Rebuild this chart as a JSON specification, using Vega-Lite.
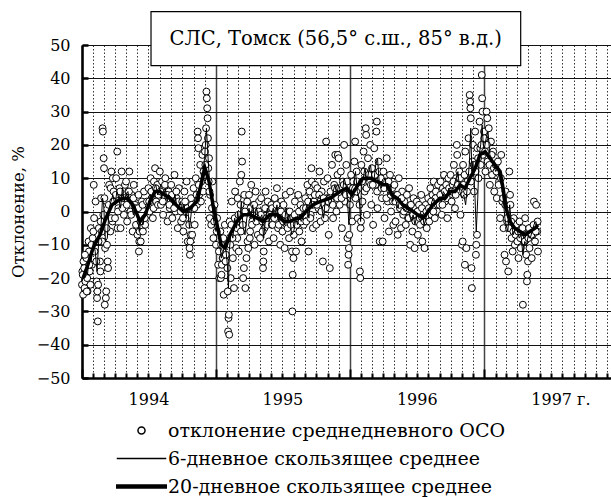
{
  "$schema": "https://vega.github.io/schema/vega-lite/v6.json",
  "autosize": {"type": "none"},
  "padding": {"left": 82, "top": 45, "right": 0, "bottom": 119},
  "width": 529,
  "height": 333,
  "background": "white",
  "config": {
    "view": {"stroke": null},
    "font": "DejaVu Serif",
    "axis": {"labelColor": "black", "titleColor": "black", "labelFont": "DejaVu Serif", "titleFont": "DejaVu Serif"},
    "legend": {"labelFont": "DejaVu Serif"},
    "text": {"font": "DejaVu Serif"}
  },
  "datasets": {
    "obs": [
      {"t":"1994-01-01","v":-22},{"t":"1994-01-02","v":-18},{"t":"1994-01-04","v":-25},{"t":"1994-01-05","v":-15},{"t":"1994-01-07","v":-17},{"t":"1994-01-08","v":-23},{"t":"1994-01-10","v":-21},{"t":"1994-01-13","v":-14},{"t":"1994-01-15","v":-20},{"t":"1994-01-16","v":-24},{"t":"1994-01-19","v":-9},{"t":"1994-01-20","v":-12},{"t":"1994-01-22","v":-18},{"t":"1994-01-24","v":-22},{"t":"1994-01-25","v":-5},{"t":"1994-01-28","v":-16},{"t":"1994-01-30","v":-8},
      {"t":"1994-01-03","v":-19},{"t":"1994-01-09","v":-13},{"t":"1994-01-14","v":-24},{"t":"1994-01-21","v":-16},{"t":"1994-01-27","v":-10},
      {"t":"1994-02-01","v":-6},{"t":"1994-02-02","v":8},{"t":"1994-02-04","v":-12},{"t":"1994-02-07","v":3},{"t":"1994-02-10","v":-21},{"t":"1994-02-11","v":-26},{"t":"1994-02-12","v":-24},{"t":"1994-02-13","v":-33},{"t":"1994-02-14","v":-22},{"t":"1994-02-16","v":-5},{"t":"1994-02-19","v":-15},{"t":"1994-02-20","v":-18},{"t":"1994-02-22","v":4},{"t":"1994-02-25","v":-9},{"t":"1994-02-26","v":25},{"t":"1994-02-27","v":24},{"t":"1994-02-28","v":-1},
      {"t":"1994-02-03","v":-2},{"t":"1994-02-09","v":-15},{"t":"1994-02-15","v":-9},{"t":"1994-02-21","v":-3},{"t":"1994-02-24","v":-6},
      {"t":"1994-03-01","v":16},{"t":"1994-03-02","v":13},{"t":"1994-03-04","v":-28},{"t":"1994-03-05","v":-11},{"t":"1994-03-07","v":-26},{"t":"1994-03-08","v":-24},{"t":"1994-03-10","v":-10},{"t":"1994-03-12","v":-15},{"t":"1994-03-13","v":-17},{"t":"1994-03-16","v":8},{"t":"1994-03-19","v":-6},{"t":"1994-03-20","v":7},{"t":"1994-03-22","v":12},{"t":"1994-03-25","v":-3},{"t":"1994-03-26","v":10},{"t":"1994-03-28","v":6},
      {"t":"1994-03-03","v":4},{"t":"1994-03-09","v":-5},{"t":"1994-03-15","v":2},{"t":"1994-03-21","v":-2},{"t":"1994-03-27","v":3},
      {"t":"1994-04-01","v":-2},{"t":"1994-04-04","v":10},{"t":"1994-04-07","v":18},{"t":"1994-04-08","v":-5},{"t":"1994-04-10","v":1},{"t":"1994-04-13","v":7},{"t":"1994-04-16","v":-5},{"t":"1994-04-19","v":12},{"t":"1994-04-22","v":4},{"t":"1994-04-25","v":-1},{"t":"1994-04-28","v":8},
      {"t":"1994-04-03","v":5},{"t":"1994-04-09","v":0},{"t":"1994-04-15","v":6},{"t":"1994-04-21","v":1},{"t":"1994-04-27","v":4},
      {"t":"1994-05-01","v":9},{"t":"1994-05-04","v":-3},{"t":"1994-05-07","v":6},{"t":"1994-05-10","v":12},{"t":"1994-05-13","v":0},{"t":"1994-05-16","v":5},{"t":"1994-05-19","v":-6},{"t":"1994-05-22","v":8},{"t":"1994-05-25","v":2},{"t":"1994-05-28","v":-4},
      {"t":"1994-05-03","v":2},{"t":"1994-05-09","v":6},{"t":"1994-05-15","v":-1},{"t":"1994-05-21","v":4},{"t":"1994-05-27","v":1},
      {"t":"1994-06-01","v":-7},{"t":"1994-06-04","v":5},{"t":"1994-06-05","v":-12},{"t":"1994-06-06","v":-9},{"t":"1994-06-07","v":-6},{"t":"1994-06-10","v":-9},{"t":"1994-06-13","v":3},{"t":"1994-06-16","v":-6},{"t":"1994-06-19","v":6},{"t":"1994-06-22","v":-4},{"t":"1994-06-25","v":2},{"t":"1994-06-28","v":-1},
      {"t":"1994-06-03","v":1},{"t":"1994-06-09","v":-3},{"t":"1994-06-15","v":2},{"t":"1994-06-21","v":-2},{"t":"1994-06-27","v":3},
      {"t":"1994-07-01","v":7},{"t":"1994-07-04","v":0},{"t":"1994-07-07","v":10},{"t":"1994-07-10","v":4},{"t":"1994-07-13","v":-2},{"t":"1994-07-16","v":9},{"t":"1994-07-19","v":13},{"t":"1994-07-22","v":3},{"t":"1994-07-25","v":8},{"t":"1994-07-28","v":5},
      {"t":"1994-07-03","v":3},{"t":"1994-07-09","v":6},{"t":"1994-07-15","v":1},{"t":"1994-07-21","v":7},{"t":"1994-07-27","v":2},
      {"t":"1994-08-01","v":12},{"t":"1994-08-04","v":2},{"t":"1994-08-07","v":9},{"t":"1994-08-10","v":-1},{"t":"1994-08-13","v":7},{"t":"1994-08-16","v":10},{"t":"1994-08-19","v":3},{"t":"1994-08-22","v":-3},{"t":"1994-08-25","v":6},{"t":"1994-08-28","v":1},
      {"t":"1994-08-03","v":6},{"t":"1994-08-09","v":3},{"t":"1994-08-15","v":8},{"t":"1994-08-21","v":5},{"t":"1994-08-27","v":2},
      {"t":"1994-09-01","v":8},{"t":"1994-09-04","v":-2},{"t":"1994-09-07","v":5},{"t":"1994-09-10","v":11},{"t":"1994-09-13","v":0},{"t":"1994-09-16","v":4},{"t":"1994-09-19","v":-5},{"t":"1994-09-22","v":7},{"t":"1994-09-25","v":2},{"t":"1994-09-28","v":-3},
      {"t":"1994-09-03","v":5},{"t":"1994-09-09","v":1},{"t":"1994-09-15","v":6},{"t":"1994-09-21","v":3},{"t":"1994-09-27","v":0},
      {"t":"1994-10-01","v":3},{"t":"1994-10-04","v":-6},{"t":"1994-10-07","v":6},{"t":"1994-10-10","v":-2},{"t":"1994-10-13","v":9},{"t":"1994-10-16","v":-9},{"t":"1994-10-19","v":1},{"t":"1994-10-21","v":-11},{"t":"1994-10-22","v":-13},{"t":"1994-10-23","v":-9},{"t":"1994-10-24","v":-7},{"t":"1994-10-25","v":4},{"t":"1994-10-28","v":-7},
      {"t":"1994-10-03","v":-2},{"t":"1994-10-09","v":3},{"t":"1994-10-15","v":1},{"t":"1994-10-20","v":-4},{"t":"1994-10-27","v":2},
      {"t":"1994-11-01","v":7},{"t":"1994-11-04","v":-4},{"t":"1994-11-07","v":10},{"t":"1994-11-10","v":2},{"t":"1994-11-12","v":24},{"t":"1994-11-13","v":22},{"t":"1994-11-14","v":19},{"t":"1994-11-16","v":5},{"t":"1994-11-19","v":14},{"t":"1994-11-22","v":9},{"t":"1994-11-25","v":17},{"t":"1994-11-28","v":12},
      {"t":"1994-11-03","v":1},{"t":"1994-11-09","v":5},{"t":"1994-11-15","v":8},{"t":"1994-11-21","v":3},{"t":"1994-11-27","v":6},
      {"t":"1994-12-01","v":11},{"t":"1994-12-02","v":18},{"t":"1994-12-04","v":20},{"t":"1994-12-05","v":25},{"t":"1994-12-06","v":36},{"t":"1994-12-07","v":34},{"t":"1994-12-08","v":31},{"t":"1994-12-09","v":28},{"t":"1994-12-10","v":22},{"t":"1994-12-11","v":13},{"t":"1994-12-13","v":16},{"t":"1994-12-15","v":-2},{"t":"1994-12-16","v":5},{"t":"1994-12-19","v":-4},{"t":"1994-12-22","v":9},{"t":"1994-12-25","v":-8},{"t":"1994-12-28","v":2},
      {"t":"1994-12-03","v":14},{"t":"1994-12-12","v":9},{"t":"1994-12-14","v":6},{"t":"1994-12-21","v":1},{"t":"1994-12-27","v":-3},
      {"t":"1995-01-01","v":-10},{"t":"1995-01-04","v":-2},{"t":"1995-01-07","v":-16},{"t":"1995-01-10","v":-20},{"t":"1995-01-13","v":-6},{"t":"1995-01-14","v":-20},{"t":"1995-01-16","v":-19},{"t":"1995-01-17","v":-16},{"t":"1995-01-19","v":-14},{"t":"1995-01-20","v":-14},{"t":"1995-01-22","v":-25},{"t":"1995-01-25","v":-4},{"t":"1995-01-28","v":-13},
      {"t":"1995-01-03","v":-6},{"t":"1995-01-09","v":-12},{"t":"1995-01-15","v":-10},{"t":"1995-01-21","v":-8},{"t":"1995-01-27","v":-15},
      {"t":"1995-02-01","v":-17},{"t":"1995-02-02","v":-24},{"t":"1995-02-03","v":-36},{"t":"1995-02-04","v":-32},{"t":"1995-02-05","v":-31},{"t":"1995-02-06","v":-37},{"t":"1995-02-07","v":-3},{"t":"1995-02-10","v":-20},{"t":"1995-02-13","v":3},{"t":"1995-02-16","v":-14},{"t":"1995-02-19","v":-23},{"t":"1995-02-22","v":6},{"t":"1995-02-25","v":-11},{"t":"1995-02-28","v":-8},
      {"t":"1995-02-09","v":-10},{"t":"1995-02-12","v":-4},{"t":"1995-02-15","v":-8},{"t":"1995-02-21","v":-2},{"t":"1995-02-27","v":-5},
      {"t":"1995-03-01","v":4},{"t":"1995-03-04","v":-12},{"t":"1995-03-07","v":9},{"t":"1995-03-10","v":-6},{"t":"1995-03-11","v":11},{"t":"1995-03-12","v":24},{"t":"1995-03-13","v":15},{"t":"1995-03-16","v":-20},{"t":"1995-03-18","v":-17},{"t":"1995-03-19","v":5},{"t":"1995-03-22","v":-23},{"t":"1995-03-25","v":-14},{"t":"1995-03-28","v":-9},{"t":"1995-03-30","v":-11},
      {"t":"1995-03-03","v":-1},{"t":"1995-03-09","v":2},{"t":"1995-03-15","v":-4},{"t":"1995-03-21","v":0},{"t":"1995-03-27","v":3},
      {"t":"1995-04-01","v":5},{"t":"1995-04-03","v":-8},{"t":"1995-04-04","v":-6},{"t":"1995-04-07","v":8},{"t":"1995-04-10","v":-3},{"t":"1995-04-13","v":2},{"t":"1995-04-16","v":-10},{"t":"1995-04-19","v":6},{"t":"1995-04-22","v":-1},{"t":"1995-04-25","v":-7},{"t":"1995-04-28","v":3},
      {"t":"1995-04-05","v":1},{"t":"1995-04-09","v":-4},{"t":"1995-04-15","v":2},{"t":"1995-04-21","v":-3},{"t":"1995-04-27","v":0},
      {"t":"1995-05-01","v":-8},{"t":"1995-05-04","v":4},{"t":"1995-05-07","v":-3},{"t":"1995-05-09","v":-17},{"t":"1995-05-10","v":-15},{"t":"1995-05-11","v":-12},{"t":"1995-05-13","v":-5},{"t":"1995-05-16","v":6},{"t":"1995-05-19","v":-2},{"t":"1995-05-22","v":3},{"t":"1995-05-25","v":-9},{"t":"1995-05-28","v":1},
      {"t":"1995-05-03","v":-1},{"t":"1995-05-08","v":-6},{"t":"1995-05-15","v":1},{"t":"1995-05-21","v":-4},{"t":"1995-05-27","v":-1},
      {"t":"1995-06-01","v":2},{"t":"1995-06-02","v":-4},{"t":"1995-06-04","v":-4},{"t":"1995-06-07","v":-8},{"t":"1995-06-10","v":4},{"t":"1995-06-13","v":-1},{"t":"1995-06-16","v":7},{"t":"1995-06-19","v":-5},{"t":"1995-06-22","v":0},{"t":"1995-06-25","v":-10},{"t":"1995-06-28","v":3},
      {"t":"1995-06-03","v":1},{"t":"1995-06-09","v":-2},{"t":"1995-06-15","v":2},{"t":"1995-06-21","v":-4},{"t":"1995-06-27","v":0},
      {"t":"1995-07-01","v":-6},{"t":"1995-07-04","v":2},{"t":"1995-07-07","v":-11},{"t":"1995-07-10","v":5},{"t":"1995-07-13","v":-4},{"t":"1995-07-16","v":0},{"t":"1995-07-19","v":-8},{"t":"1995-07-22","v":6},{"t":"1995-07-25","v":-2},{"t":"1995-07-27","v":-12},{"t":"1995-07-28","v":-30},{"t":"1995-07-29","v":-19},{"t":"1995-07-31","v":-14},
      {"t":"1995-07-03","v":-3},{"t":"1995-07-09","v":-1},{"t":"1995-07-15","v":-5},{"t":"1995-07-21","v":0},{"t":"1995-07-24","v":-4},
      {"t":"1995-08-01","v":-7},{"t":"1995-08-04","v":3},{"t":"1995-08-07","v":-12},{"t":"1995-08-10","v":-1},{"t":"1995-08-13","v":5},{"t":"1995-08-16","v":-6},{"t":"1995-08-19","v":2},{"t":"1995-08-22","v":-9},{"t":"1995-08-25","v":0},{"t":"1995-08-28","v":-4},
      {"t":"1995-08-03","v":-1},{"t":"1995-08-09","v":-4},{"t":"1995-08-15","v":0},{"t":"1995-08-21","v":-3},{"t":"1995-08-27","v":1},
      {"t":"1995-09-01","v":4},{"t":"1995-09-04","v":-3},{"t":"1995-09-07","v":8},{"t":"1995-09-10","v":-12},{"t":"1995-09-13","v":6},{"t":"1995-09-16","v":-1},{"t":"1995-09-18","v":13},{"t":"1995-09-19","v":9},{"t":"1995-09-22","v":-5},{"t":"1995-09-25","v":3},{"t":"1995-09-28","v":8},
      {"t":"1995-09-03","v":1},{"t":"1995-09-09","v":3},{"t":"1995-09-15","v":-2},{"t":"1995-09-21","v":2},{"t":"1995-09-27","v":5},
      {"t":"1995-10-01","v":-4},{"t":"1995-10-04","v":7},{"t":"1995-10-07","v":1},{"t":"1995-10-10","v":12},{"t":"1995-10-13","v":-3},{"t":"1995-10-16","v":6},{"t":"1995-10-19","v":-15},{"t":"1995-10-22","v":9},{"t":"1995-10-25","v":-2},{"t":"1995-10-28","v":21},{"t":"1995-10-30","v":4},
      {"t":"1995-10-03","v":2},{"t":"1995-10-09","v":5},{"t":"1995-10-15","v":0},{"t":"1995-10-21","v":4},{"t":"1995-10-27","v":1},
      {"t":"1995-11-01","v":10},{"t":"1995-11-04","v":-7},{"t":"1995-11-07","v":-17},{"t":"1995-11-10","v":3},{"t":"1995-11-13","v":14},{"t":"1995-11-16","v":-2},{"t":"1995-11-19","v":8},{"t":"1995-11-22","v":17},{"t":"1995-11-25","v":0},{"t":"1995-11-28","v":11},{"t":"1995-11-29","v":17},
      {"t":"1995-11-03","v":3},{"t":"1995-11-09","v":6},{"t":"1995-11-15","v":2},{"t":"1995-11-21","v":7},{"t":"1995-11-27","v":4},
      {"t":"1995-12-01","v":16},{"t":"1995-12-04","v":2},{"t":"1995-12-07","v":12},{"t":"1995-12-10","v":-5},{"t":"1995-12-13","v":9},{"t":"1995-12-16","v":20},{"t":"1995-12-19","v":3},{"t":"1995-12-22","v":14},{"t":"1995-12-25","v":-8},{"t":"1995-12-27","v":-16},{"t":"1995-12-28","v":-13},{"t":"1995-12-29","v":-11},{"t":"1995-12-30","v":-7},
      {"t":"1995-12-03","v":7},{"t":"1995-12-09","v":4},{"t":"1995-12-15","v":8},{"t":"1995-12-21","v":5},{"t":"1995-12-24","v":9},
      {"t":"1996-01-01","v":2},{"t":"1996-01-04","v":11},{"t":"1996-01-07","v":-3},{"t":"1996-01-10","v":9},{"t":"1996-01-13","v":15},{"t":"1996-01-15","v":21},{"t":"1996-01-16","v":4},{"t":"1996-01-19","v":12},{"t":"1996-01-22","v":-2},{"t":"1996-01-25","v":7},{"t":"1996-01-28","v":-18},{"t":"1996-01-29","v":-20},{"t":"1996-01-30","v":-5},{"t":"1996-01-31","v":-3},
      {"t":"1996-01-03","v":5},{"t":"1996-01-09","v":7},{"t":"1996-01-18","v":6},{"t":"1996-01-21","v":9},{"t":"1996-01-27","v":2},
      {"t":"1996-02-01","v":14},{"t":"1996-02-04","v":3},{"t":"1996-02-07","v":18},{"t":"1996-02-10","v":6},{"t":"1996-02-13","v":25},{"t":"1996-02-14","v":23},{"t":"1996-02-16","v":-1},{"t":"1996-02-19","v":16},{"t":"1996-02-22","v":9},{"t":"1996-02-25","v":20},{"t":"1996-02-28","v":2},
      {"t":"1996-02-03","v":9},{"t":"1996-02-09","v":12},{"t":"1996-02-15","v":7},{"t":"1996-02-21","v":11},{"t":"1996-02-27","v":8},
      {"t":"1996-03-01","v":13},{"t":"1996-03-04","v":-4},{"t":"1996-03-07","v":19},{"t":"1996-03-10","v":8},{"t":"1996-03-13","v":24},{"t":"1996-03-14","v":27},{"t":"1996-03-16","v":1},{"t":"1996-03-19","v":15},{"t":"1996-03-22","v":-9},{"t":"1996-03-25","v":10},{"t":"1996-03-28","v":4},{"t":"1996-03-30","v":-9},
      {"t":"1996-03-03","v":8},{"t":"1996-03-09","v":11},{"t":"1996-03-15","v":6},{"t":"1996-03-21","v":12},{"t":"1996-03-27","v":7},
      {"t":"1996-04-01","v":12},{"t":"1996-04-04","v":-2},{"t":"1996-04-07","v":9},{"t":"1996-04-10","v":16},{"t":"1996-04-13","v":3},{"t":"1996-04-16","v":-6},{"t":"1996-04-19","v":11},{"t":"1996-04-22","v":0},{"t":"1996-04-25","v":7},{"t":"1996-04-28","v":-4},
      {"t":"1996-04-03","v":7},{"t":"1996-04-09","v":4},{"t":"1996-04-15","v":9},{"t":"1996-04-21","v":5},{"t":"1996-04-27","v":3},
      {"t":"1996-05-01","v":8},{"t":"1996-05-04","v":-3},{"t":"1996-05-07","v":5},{"t":"1996-05-10","v":-7},{"t":"1996-05-13","v":10},{"t":"1996-05-16","v":1},{"t":"1996-05-19","v":-5},{"t":"1996-05-22","v":6},{"t":"1996-05-25","v":-1},{"t":"1996-05-28","v":3},
      {"t":"1996-05-03","v":3},{"t":"1996-05-09","v":5},{"t":"1996-05-15","v":2},{"t":"1996-05-21","v":4},{"t":"1996-05-27","v":0},
      {"t":"1996-06-01","v":-4},{"t":"1996-06-04","v":5},{"t":"1996-06-07","v":-2},{"t":"1996-06-10","v":7},{"t":"1996-06-13","v":-10},{"t":"1996-06-16","v":2},{"t":"1996-06-19","v":-6},{"t":"1996-06-22","v":4},{"t":"1996-06-25","v":-11},{"t":"1996-06-28","v":1},
      {"t":"1996-06-03","v":1},{"t":"1996-06-09","v":-2},{"t":"1996-06-15","v":2},{"t":"1996-06-21","v":-1},{"t":"1996-06-27","v":-3},
      {"t":"1996-07-01","v":3},{"t":"1996-07-04","v":-7},{"t":"1996-07-07","v":2},{"t":"1996-07-10","v":-4},{"t":"1996-07-13","v":5},{"t":"1996-07-16","v":-9},{"t":"1996-07-19","v":0},{"t":"1996-07-22","v":-11},{"t":"1996-07-25","v":2},{"t":"1996-07-28","v":-5},
      {"t":"1996-07-03","v":0},{"t":"1996-07-09","v":-2},{"t":"1996-07-15","v":1},{"t":"1996-07-21","v":-3},{"t":"1996-07-27","v":0},
      {"t":"1996-08-01","v":4},{"t":"1996-08-04","v":-3},{"t":"1996-08-07","v":7},{"t":"1996-08-10","v":-1},{"t":"1996-08-13","v":5},{"t":"1996-08-16","v":9},{"t":"1996-08-19","v":-2},{"t":"1996-08-22","v":6},{"t":"1996-08-25","v":0},{"t":"1996-08-28","v":8},
      {"t":"1996-08-03","v":1},{"t":"1996-08-09","v":3},{"t":"1996-08-15","v":0},{"t":"1996-08-21","v":4},{"t":"1996-08-27","v":2},
      {"t":"1996-09-01","v":2},{"t":"1996-09-04","v":9},{"t":"1996-09-07","v":-1},{"t":"1996-09-10","v":7},{"t":"1996-09-13","v":11},{"t":"1996-09-16","v":3},{"t":"1996-09-19","v":8},{"t":"1996-09-22","v":-2},{"t":"1996-09-25","v":10},{"t":"1996-09-28","v":5},
      {"t":"1996-09-03","v":5},{"t":"1996-09-09","v":2},{"t":"1996-09-15","v":6},{"t":"1996-09-21","v":4},{"t":"1996-09-27","v":7},
      {"t":"1996-10-01","v":11},{"t":"1996-10-04","v":3},{"t":"1996-10-07","v":8},{"t":"1996-10-10","v":14},{"t":"1996-10-13","v":1},{"t":"1996-10-16","v":10},{"t":"1996-10-18","v":20},{"t":"1996-10-19","v":17},{"t":"1996-10-22","v":6},{"t":"1996-10-25","v":12},{"t":"1996-10-28","v":-1},
      {"t":"1996-10-03","v":6},{"t":"1996-10-09","v":9},{"t":"1996-10-15","v":5},{"t":"1996-10-21","v":8},{"t":"1996-10-27","v":10},
      {"t":"1996-11-01","v":-10},{"t":"1996-11-03","v":-9},{"t":"1996-11-04","v":14},{"t":"1996-11-07","v":5},{"t":"1996-11-09","v":-16},{"t":"1996-11-10","v":18},{"t":"1996-11-13","v":-11},{"t":"1996-11-16","v":9},{"t":"1996-11-19","v":22},{"t":"1996-11-22","v":35},{"t":"1996-11-23","v":33},{"t":"1996-11-24","v":31},{"t":"1996-11-25","v":28},{"t":"1996-11-27","v":-17},{"t":"1996-11-28","v":-23},{"t":"1996-11-30","v":15},
      {"t":"1996-11-05","v":8},{"t":"1996-11-08","v":11},{"t":"1996-11-15","v":6},{"t":"1996-11-21","v":12},{"t":"1996-11-26","v":9},
      {"t":"1996-12-01","v":20},{"t":"1996-12-04","v":6},{"t":"1996-12-07","v":24},{"t":"1996-12-09","v":-13},{"t":"1996-12-10","v":-10},{"t":"1996-12-12","v":-7},{"t":"1996-12-13","v":19},{"t":"1996-12-16","v":10},{"t":"1996-12-19","v":27},{"t":"1996-12-22","v":14},{"t":"1996-12-25","v":41},{"t":"1996-12-26","v":34},{"t":"1996-12-27","v":30},{"t":"1996-12-28","v":17},{"t":"1996-12-31","v":24},
      {"t":"1996-12-03","v":14},{"t":"1996-12-08","v":12},{"t":"1996-12-15","v":16},{"t":"1996-12-21","v":19},{"t":"1996-12-24","v":20},
      {"t":"1997-01-01","v":22},{"t":"1997-01-04","v":12},{"t":"1997-01-07","v":30},{"t":"1997-01-09","v":28},{"t":"1997-01-10","v":15},{"t":"1997-01-13","v":25},{"t":"1997-01-16","v":8},{"t":"1997-01-19","v":21},{"t":"1997-01-22","v":11},{"t":"1997-01-25","v":18},{"t":"1997-01-28","v":6},
      {"t":"1997-01-03","v":18},{"t":"1997-01-08","v":20},{"t":"1997-01-15","v":14},{"t":"1997-01-21","v":17},{"t":"1997-01-27","v":13},
      {"t":"1997-02-01","v":14},{"t":"1997-02-04","v":4},{"t":"1997-02-07","v":15},{"t":"1997-02-10","v":9},{"t":"1997-02-13","v":-2},{"t":"1997-02-16","v":17},{"t":"1997-02-19","v":3},{"t":"1997-02-22","v":-5},{"t":"1997-02-25","v":-13},{"t":"1997-02-28","v":6},
      {"t":"1997-02-03","v":12},{"t":"1997-02-09","v":8},{"t":"1997-02-15","v":10},{"t":"1997-02-21","v":4},{"t":"1997-02-27","v":2},
      {"t":"1997-03-01","v":-15},{"t":"1997-03-04","v":-3},{"t":"1997-03-07","v":-18},{"t":"1997-03-10","v":12},{"t":"1997-03-12","v":5},{"t":"1997-03-13","v":2},{"t":"1997-03-16","v":-8},{"t":"1997-03-19","v":-12},{"t":"1997-03-22","v":-2},{"t":"1997-03-25","v":-10},{"t":"1997-03-28","v":-4},
      {"t":"1997-03-03","v":-2},{"t":"1997-03-09","v":-5},{"t":"1997-03-15","v":-3},{"t":"1997-03-21","v":-6},{"t":"1997-03-27","v":-7},
      {"t":"1997-04-01","v":-9},{"t":"1997-04-04","v":-14},{"t":"1997-04-07","v":-3},{"t":"1997-04-10","v":-11},{"t":"1997-04-13","v":-6},{"t":"1997-04-16","v":-28},{"t":"1997-04-19","v":-9},{"t":"1997-04-22","v":-2},{"t":"1997-04-25","v":-13},{"t":"1997-04-27","v":-21},{"t":"1997-04-28","v":-19},{"t":"1997-04-30","v":-15},
      {"t":"1997-04-03","v":-6},{"t":"1997-04-09","v":-8},{"t":"1997-04-15","v":-5},{"t":"1997-04-21","v":-9},{"t":"1997-04-26","v":-7},
      {"t":"1997-05-01","v":-8},{"t":"1997-05-04","v":-11},{"t":"1997-05-07","v":-5},{"t":"1997-05-10","v":-14},{"t":"1997-05-13","v":-7},{"t":"1997-05-16","v":3},{"t":"1997-05-19","v":-9},{"t":"1997-05-22","v":2},{"t":"1997-05-25","v":-6},{"t":"1997-05-27","v":-12},
      {"t":"1997-05-03","v":-5},{"t":"1997-05-09","v":-7},{"t":"1997-05-15","v":-4},{"t":"1997-05-21","v":-6},{"t":"1997-05-26","v":-3}
    ],
    "ma6": [
      {"t":"1994-01-01","v":-21},{"t":"1994-01-06","v":-19},{"t":"1994-01-11","v":-17},{"t":"1994-01-16","v":-19},{"t":"1994-01-21","v":-13},{"t":"1994-01-26","v":-15},
      {"t":"1994-02-01","v":-9},{"t":"1994-02-06","v":-12},{"t":"1994-02-11","v":-18},{"t":"1994-02-16","v":-8},{"t":"1994-02-21","v":-6},{"t":"1994-02-26","v":4},
      {"t":"1994-03-01","v":2},{"t":"1994-03-06","v":-9},{"t":"1994-03-11","v":-8},{"t":"1994-03-16","v":1},{"t":"1994-03-21","v":3},{"t":"1994-03-26","v":5},
      {"t":"1994-04-01","v":2},{"t":"1994-04-06","v":6},{"t":"1994-04-11","v":4},{"t":"1994-04-16","v":1},{"t":"1994-04-21","v":7},{"t":"1994-04-26","v":3},
      {"t":"1994-05-01","v":5},{"t":"1994-05-06","v":6},{"t":"1994-05-11","v":3},{"t":"1994-05-16","v":2},{"t":"1994-05-21","v":-1},{"t":"1994-05-26","v":1},
      {"t":"1994-06-01","v":-2},{"t":"1994-06-06","v":-6},{"t":"1994-06-11","v":-2},{"t":"1994-06-16","v":-4},{"t":"1994-06-21","v":0},{"t":"1994-06-26","v":-1},
      {"t":"1994-07-01","v":2},{"t":"1994-07-06","v":5},{"t":"1994-07-11","v":3},{"t":"1994-07-16","v":7},{"t":"1994-07-21","v":8},{"t":"1994-07-26","v":5},
      {"t":"1994-08-01","v":7},{"t":"1994-08-06","v":4},{"t":"1994-08-11","v":6},{"t":"1994-08-16","v":7},{"t":"1994-08-21","v":3},{"t":"1994-08-26","v":5},
      {"t":"1994-09-01","v":4},{"t":"1994-09-06","v":2},{"t":"1994-09-11","v":5},{"t":"1994-09-16","v":2},{"t":"1994-09-21","v":1},{"t":"1994-09-26","v":3},
      {"t":"1994-10-01","v":0},{"t":"1994-10-06","v":2},{"t":"1994-10-11","v":-2},{"t":"1994-10-16","v":1},{"t":"1994-10-21","v":-5},{"t":"1994-10-26","v":0},
      {"t":"1994-11-01","v":2},{"t":"1994-11-06","v":4},{"t":"1994-11-11","v":6},{"t":"1994-11-16","v":3},{"t":"1994-11-21","v":10},{"t":"1994-11-26","v":12},
      {"t":"1994-12-01","v":16},{"t":"1994-12-06","v":25},{"t":"1994-12-11","v":15},{"t":"1994-12-16","v":6},{"t":"1994-12-21","v":2},{"t":"1994-12-26","v":-3},
      {"t":"1995-01-01","v":-6},{"t":"1995-01-06","v":-4},{"t":"1995-01-11","v":-10},{"t":"1995-01-16","v":-14},{"t":"1995-01-21","v":-12},{"t":"1995-01-26","v":-9},
      {"t":"1995-02-01","v":-16},{"t":"1995-02-04","v":-23},{"t":"1995-02-06","v":-12},{"t":"1995-02-11","v":-6},{"t":"1995-02-16","v":-8},{"t":"1995-02-21","v":-2},{"t":"1995-02-26","v":-5},
      {"t":"1995-03-01","v":0},{"t":"1995-03-06","v":-4},{"t":"1995-03-11","v":3},{"t":"1995-03-16","v":-5},{"t":"1995-03-21","v":-7},{"t":"1995-03-26","v":-2},
      {"t":"1995-04-01","v":1},{"t":"1995-04-06","v":-2},{"t":"1995-04-11","v":2},{"t":"1995-04-16","v":-3},{"t":"1995-04-21","v":1},{"t":"1995-04-26","v":-1},
      {"t":"1995-05-01","v":-2},{"t":"1995-05-06","v":-1},{"t":"1995-05-11","v":-8},{"t":"1995-05-16","v":-2},{"t":"1995-05-21","v":1},{"t":"1995-05-26","v":-3},
      {"t":"1995-06-01","v":-1},{"t":"1995-06-06","v":1},{"t":"1995-06-11","v":-2},{"t":"1995-06-16","v":2},{"t":"1995-06-21","v":-3},{"t":"1995-06-26","v":-1},
      {"t":"1995-07-01","v":-2},{"t":"1995-07-06","v":-4},{"t":"1995-07-11","v":1},{"t":"1995-07-16","v":-3},{"t":"1995-07-21","v":-1},{"t":"1995-07-26","v":-7},
      {"t":"1995-08-01","v":-6},{"t":"1995-08-06","v":-2},{"t":"1995-08-11","v":-4},{"t":"1995-08-16","v":-1},{"t":"1995-08-21","v":-3},{"t":"1995-08-26","v":-2},
      {"t":"1995-09-01","v":0},{"t":"1995-09-06","v":2},{"t":"1995-09-11","v":-2},{"t":"1995-09-16","v":4},{"t":"1995-09-21","v":1},{"t":"1995-09-26","v":3},
      {"t":"1995-10-01","v":2},{"t":"1995-10-06","v":4},{"t":"1995-10-11","v":5},{"t":"1995-10-16","v":1},{"t":"1995-10-21","v":-2},{"t":"1995-10-26","v":4},
      {"t":"1995-11-01","v":5},{"t":"1995-11-06","v":2},{"t":"1995-11-11","v":3},{"t":"1995-11-16","v":6},{"t":"1995-11-21","v":8},{"t":"1995-11-26","v":5},
      {"t":"1995-12-01","v":8},{"t":"1995-12-06","v":6},{"t":"1995-12-11","v":5},{"t":"1995-12-16","v":10},{"t":"1995-12-21","v":8},{"t":"1995-12-26","v":2},{"t":"1995-12-29","v":-4},
      {"t":"1996-01-01","v":3},{"t":"1996-01-06","v":7},{"t":"1996-01-11","v":8},{"t":"1996-01-16","v":12},{"t":"1996-01-21","v":6},{"t":"1996-01-26","v":4},{"t":"1996-01-30","v":-3},
      {"t":"1996-02-01","v":8},{"t":"1996-02-06","v":10},{"t":"1996-02-11","v":13},{"t":"1996-02-16","v":9},{"t":"1996-02-21","v":12},{"t":"1996-02-26","v":14},
      {"t":"1996-03-01","v":10},{"t":"1996-03-06","v":9},{"t":"1996-03-11","v":14},{"t":"1996-03-16","v":16},{"t":"1996-03-21","v":8},{"t":"1996-03-26","v":7},
      {"t":"1996-04-01","v":9},{"t":"1996-04-06","v":10},{"t":"1996-04-11","v":6},{"t":"1996-04-16","v":5},{"t":"1996-04-21","v":8},{"t":"1996-04-26","v":3},
      {"t":"1996-05-01","v":4},{"t":"1996-05-06","v":3},{"t":"1996-05-11","v":1},{"t":"1996-05-16","v":4},{"t":"1996-05-21","v":2},{"t":"1996-05-26","v":1},
      {"t":"1996-06-01","v":0},{"t":"1996-06-06","v":2},{"t":"1996-06-11","v":-1},{"t":"1996-06-16","v":-3},{"t":"1996-06-21","v":-1},{"t":"1996-06-26","v":-4},
      {"t":"1996-07-01","v":-1},{"t":"1996-07-06","v":-2},{"t":"1996-07-11","v":-3},{"t":"1996-07-16","v":-1},{"t":"1996-07-21","v":-4},{"t":"1996-07-26","v":-2},
      {"t":"1996-08-01","v":1},{"t":"1996-08-06","v":0},{"t":"1996-08-11","v":3},{"t":"1996-08-16","v":4},{"t":"1996-08-21","v":2},{"t":"1996-08-26","v":3},
      {"t":"1996-09-01","v":4},{"t":"1996-09-06","v":3},{"t":"1996-09-11","v":6},{"t":"1996-09-16","v":5},{"t":"1996-09-21","v":4},{"t":"1996-09-26","v":7},
      {"t":"1996-10-01","v":5},{"t":"1996-10-06","v":7},{"t":"1996-10-11","v":8},{"t":"1996-10-16","v":10},{"t":"1996-10-21","v":12},{"t":"1996-10-26","v":6},
      {"t":"1996-11-01","v":4},{"t":"1996-11-06","v":5},{"t":"1996-11-11","v":2},{"t":"1996-11-16","v":8},{"t":"1996-11-21","v":14},{"t":"1996-11-25","v":25},{"t":"1996-11-28","v":12},
      {"t":"1996-12-01","v":15},{"t":"1996-12-06","v":6},{"t":"1996-12-10","v":-6},{"t":"1996-12-14","v":4},{"t":"1996-12-18","v":17},{"t":"1996-12-22","v":20},{"t":"1996-12-26","v":26},{"t":"1996-12-29","v":20},
      {"t":"1997-01-01","v":19},{"t":"1997-01-06","v":22},{"t":"1997-01-11","v":24},{"t":"1997-01-16","v":17},{"t":"1997-01-21","v":16},{"t":"1997-01-26","v":14},
      {"t":"1997-02-01","v":12},{"t":"1997-02-06","v":13},{"t":"1997-02-11","v":10},{"t":"1997-02-16","v":8},{"t":"1997-02-21","v":4},{"t":"1997-02-26","v":-2},
      {"t":"1997-03-01","v":-4},{"t":"1997-03-06","v":-6},{"t":"1997-03-11","v":2},{"t":"1997-03-16","v":-4},{"t":"1997-03-21","v":-7},{"t":"1997-03-26","v":-5},
      {"t":"1997-04-01","v":-6},{"t":"1997-04-06","v":-8},{"t":"1997-04-11","v":-7},{"t":"1997-04-16","v":-13},{"t":"1997-04-21","v":-9},{"t":"1997-04-26","v":-10},
      {"t":"1997-05-01","v":-7},{"t":"1997-05-06","v":-8},{"t":"1997-05-11","v":-6},{"t":"1997-05-16","v":-4},{"t":"1997-05-21","v":-3},{"t":"1997-05-26","v":-5}
    ],
    "ma20": [
      {"t":"1994-01-04","v":-20},{"t":"1994-01-17","v":-16},{"t":"1994-01-31","v":-11},{"t":"1994-02-19","v":-7},{"t":"1994-03-07","v":-2},{"t":"1994-03-24","v":2},{"t":"1994-04-06","v":3},{"t":"1994-04-20","v":4},{"t":"1994-05-04","v":4},{"t":"1994-05-20","v":2},{"t":"1994-06-08","v":-3},{"t":"1994-06-22","v":-1},{"t":"1994-07-05","v":3},{"t":"1994-07-19","v":6},{"t":"1994-08-01","v":6},{"t":"1994-08-15","v":5},{"t":"1994-08-29","v":4},{"t":"1994-09-14","v":2},{"t":"1994-10-03","v":0},{"t":"1994-10-22","v":1},{"t":"1994-11-10","v":3},{"t":"1994-11-21","v":8},{"t":"1994-12-02","v":13},{"t":"1994-12-13","v":9},{"t":"1994-12-24","v":2},
      {"t":"1995-01-04","v":-4},{"t":"1995-01-15","v":-10},{"t":"1995-01-26","v":-11},{"t":"1995-02-08","v":-7},{"t":"1995-02-27","v":-3},{"t":"1995-03-16","v":-1},{"t":"1995-04-04","v":-1},{"t":"1995-04-23","v":-2},{"t":"1995-05-09","v":-3},{"t":"1995-05-28","v":-1},{"t":"1995-06-16","v":-1},{"t":"1995-07-05","v":-3},{"t":"1995-07-22","v":-3},{"t":"1995-08-07","v":-2},{"t":"1995-08-18","v":-2},{"t":"1995-09-03","v":0},{"t":"1995-09-22","v":2},{"t":"1995-10-11","v":3},{"t":"1995-11-08","v":4},{"t":"1995-12-05","v":6},{"t":"1995-12-24","v":7},
      {"t":"1996-01-06","v":5},{"t":"1996-01-23","v":8},{"t":"1996-02-05","v":10},{"t":"1996-02-25","v":10},{"t":"1996-03-15","v":9},{"t":"1996-03-31","v":8},{"t":"1996-04-11","v":8},{"t":"1996-04-24","v":5},{"t":"1996-05-08","v":4},{"t":"1996-05-24","v":2},{"t":"1996-06-07","v":1},{"t":"1996-06-21","v":0},{"t":"1996-07-04","v":-1},{"t":"1996-07-18","v":-2},{"t":"1996-08-01","v":0},{"t":"1996-08-14","v":2},{"t":"1996-09-02","v":4},{"t":"1996-09-16","v":4},{"t":"1996-09-29","v":6},{"t":"1996-10-13","v":6},{"t":"1996-10-27","v":8},{"t":"1996-11-09","v":7},{"t":"1996-11-23","v":10},{"t":"1996-12-07","v":13},{"t":"1996-12-20","v":17},
      {"t":"1997-01-03","v":18},{"t":"1997-01-16","v":16},{"t":"1997-01-30","v":14},{"t":"1997-02-13","v":12},{"t":"1997-02-21","v":7},{"t":"1997-03-01","v":1},{"t":"1997-03-12","v":-3},{"t":"1997-03-25","v":-5},{"t":"1997-04-08","v":-6},{"t":"1997-04-22","v":-7},{"t":"1997-05-05","v":-6},{"t":"1997-05-19","v":-5},{"t":"1997-05-27","v":-4}
    ]
  },
  "layer": [
    {
      "data": {"name": "obs"},
      "mark": {"type": "point", "filled": false, "stroke": "black", "strokeWidth": 1, "size": 48, "opacity": 1},
      "encoding": {
        "x": {
          "field": "t", "type": "temporal",
          "scale": {"domain": [{"year": 1994, "month": 1, "date": 1}, {"year": 1997, "month": 12, "date": 12}], "nice": false},
          "axis": {
            "title": null,
            "tickCount": {"interval": "month", "step": 1},
            "grid": true,
            "gridColor": {"condition": {"test": "month(datum.value)==0", "value": "#444444"}, "value": "#000000"},
            "gridDash": {"condition": {"test": "month(datum.value)==0", "value": []}, "value": [1.5, 2]},
            "gridWidth": {"condition": {"test": "month(datum.value)==0", "value": 1.5}, "value": 0.8},
            "domainColor": "#000000", "domainWidth": 2.5,
            "tickColor": "#000000", "tickWidth": 2,
            "tickSize": {"condition": {"test": "month(datum.value)==0", "value": -9}, "value": -5},
            "labelExpr": "month(datum.value)==6 ? (year(datum.value)==1997 ? '1997 г.' : timeFormat(datum.value,'%Y')) : ''",
            "labelAlign": {"condition": {"test": "year(datum.value)==1997", "value": "left"}, "value": "center"},
            "labelOffset": {"condition": {"test": "year(datum.value)==1997", "value": -20}, "value": 0},
            "labelFontSize": 16, "labelPadding": 18, "labelOverlap": false, "labelFlush": false, "labelBound": false
          }
        },
        "y": {
          "field": "v", "type": "quantitative",
          "scale": {"domain": [-50, 50], "nice": false, "zero": false},
          "axis": {
            "title": "Отклонение, %",
            "values": [-50, -40, -30, -20, -10, 0, 10, 20, 30, 40, 50],
            "tickCount": 11,
            "grid": true, "gridColor": "#111111", "gridWidth": 1,
            "domainColor": "#000000", "domainWidth": 2.5,
            "tickColor": "#000000", "tickWidth": 2.5, "tickSize": -6,
            "labelFontSize": 16, "labelPadding": 18, "labelOverlap": false,
            "titleFontSize": 16.5, "titleFontWeight": "normal",
            "titleX": -64, "titleY": 166.5, "titleAngle": -90, "titleBaseline": "middle", "titleAlign": "center"
          }
        },
        "shape": {
          "datum": "отклонение среднедневного ОСО", "type": "nominal",
          "scale": {"domain": ["отклонение среднедневного ОСО", "6-дневное скользящее среднее", "20-дневное скользящее среднее"], "range": ["circle", "M-7,0H7", "M-7,-0.45H7V0.45H-7Z"]},
          "legend": {"title": null, "orient": "none", "legendX": 50, "legendY": 376, "padding": 0, "symbolSize": 50, "labelFontSize": 19, "labelColor": "black", "labelOffset": 17, "rowPadding": 8, "labelLimit": 500}
        },
        "fill": {
          "datum": "отклонение среднедневного ОСО", "type": "nominal",
          "scale": {"domain": ["отклонение среднедневного ОСО", "6-дневное скользящее среднее", "20-дневное скользящее среднее"], "range": ["white", "white", "black"]},
          "legend": {"title": null, "orient": "none", "legendX": 50, "legendY": 376, "padding": 0, "symbolSize": 50, "labelFontSize": 19, "labelColor": "black", "labelOffset": 17, "rowPadding": 8, "labelLimit": 500}
        },
        "stroke": {
          "datum": "отклонение среднедневного ОСО", "type": "nominal",
          "scale": {"domain": ["отклонение среднедневного ОСО", "6-дневное скользящее среднее", "20-дневное скользящее среднее"], "range": ["black", "black", "black"]},
          "legend": {"title": null, "orient": "none", "legendX": 50, "legendY": 376, "padding": 0, "symbolSize": 50, "labelFontSize": 19, "labelColor": "black", "labelOffset": 17, "rowPadding": 8, "labelLimit": 500}
        }
      }
    },
    {
      "data": {"name": "ma6"},
      "mark": {"type": "line", "color": "black", "strokeWidth": 1},
      "encoding": {
        "x": {"field": "t", "type": "temporal", "scale": {"domain": [{"year": 1994, "month": 1, "date": 1}, {"year": 1997, "month": 12, "date": 12}], "nice": false}},
        "y": {"field": "v", "type": "quantitative", "scale": {"domain": [-50, 50], "nice": false, "zero": false}}
      }
    },
    {
      "data": {"name": "ma20"},
      "mark": {"type": "line", "color": "black", "strokeWidth": 3.5},
      "encoding": {
        "x": {"field": "t", "type": "temporal", "scale": {"domain": [{"year": 1994, "month": 1, "date": 1}, {"year": 1997, "month": 12, "date": 12}], "nice": false}},
        "y": {"field": "v", "type": "quantitative", "scale": {"domain": [-50, 50], "nice": false, "zero": false}}
      }
    },
    {
      "data": {"values": [{}]},
      "mark": {"type": "rect", "fill": "white", "stroke": "black", "strokeWidth": 1.2},
      "encoding": {
        "x": {"datum": 773625600000, "type": "temporal"},
        "x2": {"datum": 860630400000},
        "y": {"datum": 60, "type": "quantitative"},
        "y2": {"datum": 43.8}
      }
    },
    {
      "data": {"values": [{}]},
      "mark": {"type": "text", "font": "DejaVu Serif", "fontSize": 19.5, "color": "black", "align": "center", "baseline": "middle"},
      "encoding": {
        "x": {"datum": 817084800000, "type": "temporal"},
        "y": {"datum": 51.9, "type": "quantitative"},
        "text": {"value": "СЛС, Томск (56,5° с.ш., 85° в.д.)"}
      }
    }
  ]
}
